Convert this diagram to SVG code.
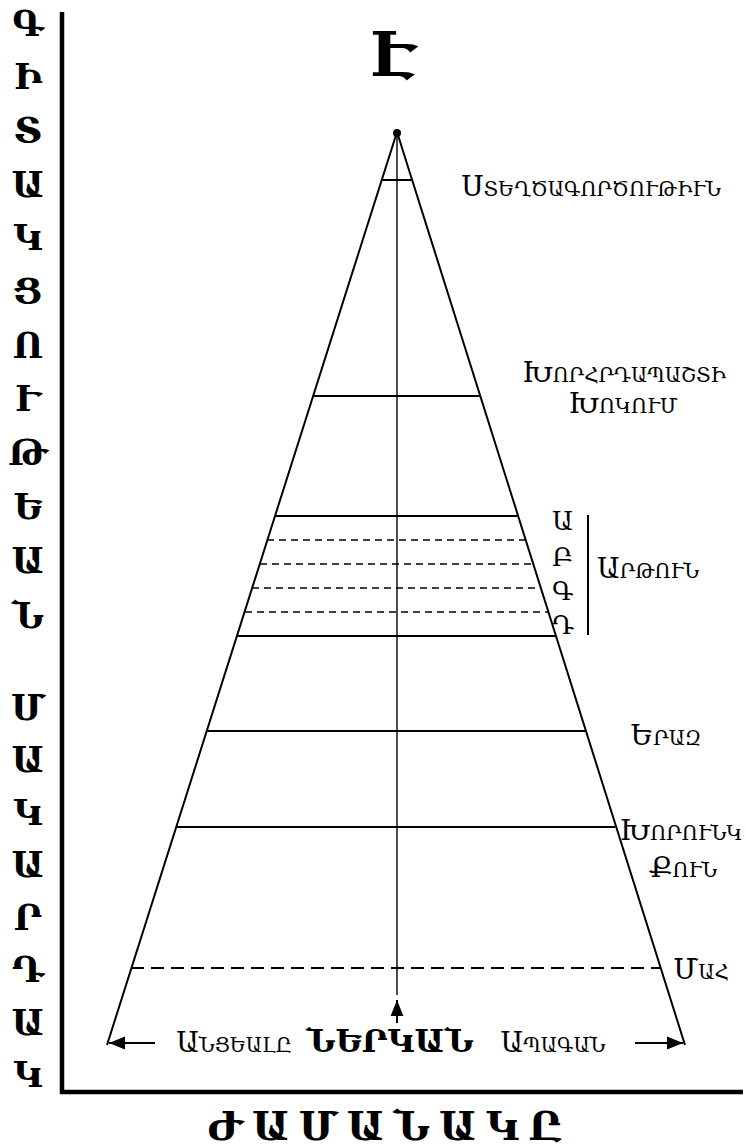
<svg xmlns="http://www.w3.org/2000/svg" width="746" height="1147" viewBox="0 0 746 1147">
<defs>
<style>
.axis{stroke:#000;stroke-width:4.5;fill:none}
.side{stroke:#000;stroke-width:2;fill:none}
.center{stroke:#000;stroke-width:1.4;fill:none}
.lvl{stroke:#000;stroke-width:2}
.dsm{stroke:#000;stroke-width:1.6;stroke-dasharray:7 5}
.dlg{stroke:#000;stroke-width:1.8;stroke-dasharray:13 7}
.arr{stroke:#000;stroke-width:2;fill:none}
.lbl{font-family:"DejaVu Serif",serif;font-size:28px;font-variant:small-caps;fill:#000}
.cap{font-family:"DejaVu Serif",serif;font-size:26px;fill:#000}
.bold{font-family:"DejaVu Serif",serif;font-weight:bold;fill:#000}
</style>
<marker id="ah" viewBox="0 0 10 10" refX="10" refY="5" markerWidth="8" markerHeight="8" orient="auto" markerUnits="strokeWidth">
<path d="M0,1 L10,5 L0,9 z" fill="#000"/>
</marker>
</defs>
<rect width="746" height="1147" fill="#fff"/>

<g id="axes">
<polyline class="axis" points="62,12 62,1092 743,1092"/>
</g>

<g id="y-axis-label" class="bold" font-size="35" text-anchor="middle">
<text x="28" y="36">Գ</text>
<text x="28" y="89">Ի</text>
<text x="28" y="143">Տ</text>
<text x="28" y="197">Ա</text>
<text x="28" y="250">Կ</text>
<text x="28" y="304">Ց</text>
<text x="28" y="358">Ո</text>
<text x="28" y="411">Ւ</text>
<text x="28" y="465">Թ</text>
<text x="28" y="519">Ե</text>
<text x="28" y="573">Ա</text>
<text x="28" y="628">Ն</text>
<text x="28" y="720">Մ</text>
<text x="28" y="772">Ա</text>
<text x="28" y="825">Կ</text>
<text x="28" y="877">Ա</text>
<text x="28" y="930">Ր</text>
<text x="28" y="982">Դ</text>
<text x="28" y="1035">Ա</text>
<text x="28" y="1087">Կ</text>
</g>

<g id="x-axis-label">
<text class="bold" font-size="40" x="389" y="1140" text-anchor="middle" letter-spacing="9">ԺԱՄԱՆԱԿԸ</text>
</g>

<g id="top-label">
<text class="bold" font-size="62" x="394" y="76" text-anchor="middle">Է</text>
</g>

<g id="pyramid">
<polyline class="side" points="107,1045 397,132 685,1045"/>
<circle cx="397" cy="133" r="4" fill="#000"/>
<line class="center" x1="397" y1="133" x2="397" y2="995"/>
</g>

<g id="levels">
<line class="lvl" x1="382" y1="180" x2="412" y2="180"/>
<line class="lvl" x1="313" y1="396" x2="480" y2="396"/>
<line class="lvl" x1="275" y1="516" x2="518" y2="516"/>
<line class="dsm" x1="267" y1="540" x2="526" y2="540"/>
<line class="dsm" x1="260" y1="564" x2="533" y2="564"/>
<line class="dsm" x1="252" y1="588" x2="541" y2="588"/>
<line class="dsm" x1="245" y1="612" x2="548" y2="612"/>
<line class="lvl" x1="237" y1="636" x2="556" y2="636"/>
<line class="lvl" x1="207" y1="731" x2="586" y2="731"/>
<line class="lvl" x1="177" y1="827" x2="615" y2="827"/>
<line class="dlg" x1="131" y1="968" x2="661" y2="968"/>
</g>

<g id="label-creation">
<text class="lbl" x="591" y="196" text-anchor="middle">Ստեղծագործութիւն</text>
</g>
<g id="label-meditation">
<text class="lbl" x="624" y="382" text-anchor="middle" font-size="26">Խորհրդապաշտի</text>
<text class="lbl" x="623" y="413" text-anchor="middle" font-size="26">Խոկում</text>
</g>
<g id="label-awake">
<text class="cap" x="552" y="530">Ա</text>
<text class="cap" x="552" y="566">Բ</text>
<text class="cap" x="552" y="600">Գ</text>
<text class="cap" x="552" y="634">Դ</text>
<line class="lvl" x1="588" y1="515" x2="588" y2="635"/>
<text class="lbl" x="597" y="578">Արթուն</text>
</g>
<g id="label-dream">
<text class="lbl" x="666" y="745" text-anchor="middle">Երազ</text>
</g>
<g id="label-deep-sleep">
<text class="lbl" x="681" y="840" text-anchor="middle">Խորունկ</text>
<text class="lbl" x="683" y="877" text-anchor="middle">Քուն</text>
</g>
<g id="label-death">
<text class="lbl" x="701" y="979" text-anchor="middle">Մահ</text>
</g>
<g id="label-time">
<text class="lbl" x="234" y="1052" text-anchor="middle">Անցեալը</text>
<text class="bold" font-size="32" x="390" y="1052" text-anchor="middle">ՆԵՐԿԱՆ</text>
<text class="lbl" x="553" y="1052" text-anchor="middle">Ապագան</text>
</g>

<g id="connectors">
<line class="arr" x1="155" y1="1043" x2="109" y2="1043" marker-end="url(#ah)"/>
<line class="arr" x1="635" y1="1043" x2="683" y2="1043" marker-end="url(#ah)"/>
<line class="arr" x1="397" y1="1023" x2="397" y2="1000" marker-end="url(#ah)"/>
</g>
</svg>
